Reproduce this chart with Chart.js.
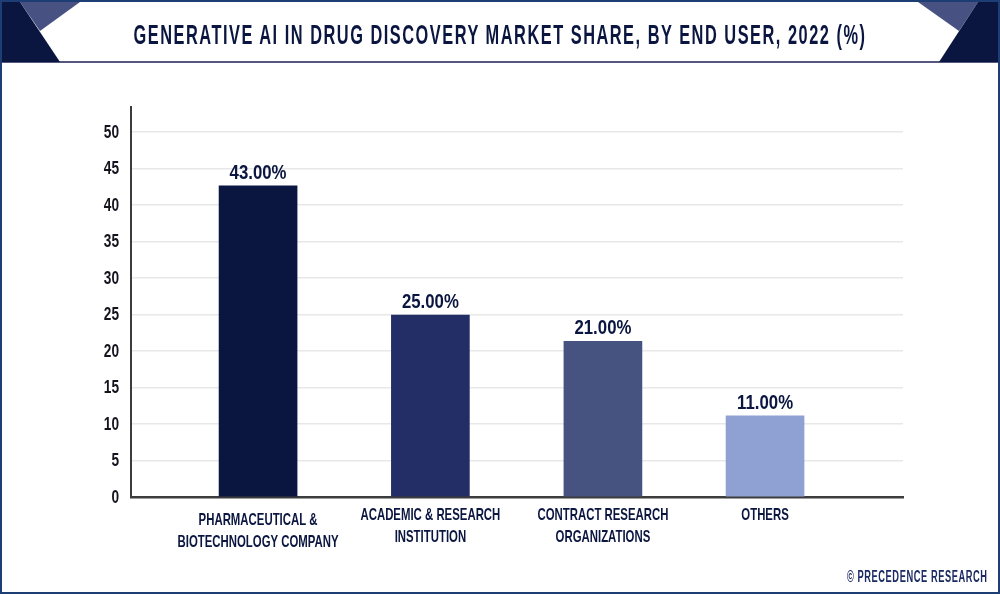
<!DOCTYPE html>
<html>
<head>
<meta charset="utf-8">
<script src="https://cdn.jsdelivr.net/npm/chart.js@4"></script>
<style>
  html, body { margin: 0; padding: 0; background: #fff; }
  #page { position: relative; width: 1000px; height: 594px; overflow: hidden; background: #fff; }
  #chart { position: absolute; left: 0; top: 0; }
  #corners { position: absolute; left: 0; top: 0; }
  #frame { position: absolute; left: 0; top: 0; width: 996px; height: 590px; border: 2px solid #1d3d75; }
  #title {
    position: absolute; left: -500px; top: 19px; width: 2000px; text-align: center; white-space: nowrap;
    font: bold 28px "Liberation Sans", sans-serif; letter-spacing: 2.6px; color: #0b1640;
    transform: scaleX(0.584);
  }
  #credit {
    position: absolute; right: 12px; top: 568px; white-space: nowrap;
    font: bold 16px "Liberation Sans", sans-serif; letter-spacing: 1px; color: #1b2a63;
    transform: scaleX(0.58); transform-origin: right center;
  }
</style>
</head>
<body>
<div id="page">
  <canvas id="chart" width="1000" height="594"></canvas>
  <svg id="corners" width="1000" height="64">
    <line x1="0" y1="62" x2="1000" y2="62" stroke="#1c1f55" stroke-width="1.5"/>
    <polygon points="20,2 80,2 40,31" fill="#475283"/>
    <polygon points="2,2 20,2 60,62 2,62" fill="#0b1640"/>
    <polygon points="918,2 978,2 959,31" fill="#475283"/>
    <polygon points="978,2 998,2 998,62 939,62" fill="#0b1640"/>
  </svg>
  <div id="frame"></div>
  <div id="title">GENERATIVE AI IN DRUG DISCOVERY MARKET SHARE, BY END USER, 2022 (%)</div>
  <div id="credit">© PRECEDENCE RESEARCH</div>
</div>
<script>
// Data
const categories = [
    ['PHARMACEUTICAL &', 'BIOTECHNOLOGY COMPANY'],
    ['ACADEMIC & RESEARCH', 'INSTITUTION'],
    ['CONTRACT RESEARCH', 'ORGANIZATIONS'],
    'OTHERS'
];
const shareValues = [42.6, 24.9, 21.3, 11.1];
const shareLabels = ['43.00%', '25.00%', '21.00%', '11.00%'];
const barColors = ['#0b1640', '#232e66', '#46527f', '#8fa1d3'];

const inkColor = '#0b1640';
const chartFont = '"Liberation Sans", sans-serif';

// No condensed font here, so canvas text is squeezed by font size
const squeezeBySize = { 17: 0.67, 18: 0.76, 20: 0.84 };

// The bars are not evenly spread in the original, so the category axis gets its own slots
const axisSlots = [0.1646, 0.3878, 0.6113, 0.8213];

class SlottedScale extends Chart.CategoryScale {
    static id = 'slotted';
    static defaults = {};

    getPixelForValue(value) {
        const index = typeof value === 'number' ? value : this.parse(value);
        return this.left + axisSlots[index] * this.width;
    }

    // first label sits a bit lower than the others
    _computeLabelItems(chartArea) {
        const items = super._computeLabelItems(chartArea);
        if (items.length) items[0].options.translation[1] += 5;
        return items;
    }
}
Chart.register(SlottedScale);

const canvas = document.getElementById('chart');
const context = canvas.getContext('2d');
const plainFillText = context.fillText.bind(context);
context.fillText = function (text, x, y) {
    const size = parseInt(context.font.match(/(\d+)px/)[1], 10);
    const squeeze = squeezeBySize[size] || 1;
    context.save();
    context.translate(x, y);
    context.scale(squeeze, 1);
    plainFillText(text, 0, 0);
    context.restore();
};

// Value labels above the bars
const barLabels = {
    id: 'barLabels',
    afterDatasetsDraw(chart) {
        const ctx = chart.ctx;
        const bars = chart.getDatasetMeta(0).data;
        ctx.save();
        ctx.font = 'bold 20px ' + chartFont;
        ctx.fillStyle = inkColor;
        ctx.textAlign = 'center';
        ctx.textBaseline = 'alphabetic';
        bars.forEach((bar, i) => {
            ctx.fillText(shareLabels[i], bar.x, bar.y - 7);
        });
        ctx.restore();
    }
};

new Chart(context, {
    type: 'bar',
    data: {
        labels: categories,
        datasets: [{
            data: shareValues,
            backgroundColor: barColors,
            barThickness: 78
        }]
    },
    plugins: [barLabels],
    options: {
        responsive: false,
        animation: false,
        layout: { padding: { top: 107, left: 90, right: 97, bottom: 0 } },
        plugins: {
            legend: { display: false },
            tooltip: { enabled: false }
        },
        scales: {
            x: {
                type: 'slotted',
                afterFit: scale => { scale.height = 97; },
                grid: { display: false },
                border: { color: '#3c3c3c', width: 2.5 },
                ticks: {
                    color: inkColor,
                    font: { family: chartFont, size: 17, weight: 'bold', lineHeight: 1.3 },
                    padding: -1,
                    autoSkip: false,
                    maxRotation: 0
                }
            },
            y: {
                min: 0,
                max: 53.4,
                afterFit: scale => { scale.width = 41; },
                grid: { color: '#e8e8e8', lineWidth: 1.5, drawTicks: false },
                border: { color: '#3c3c3c', width: 2 },
                ticks: {
                    stepSize: 5,
                    includeBounds: false,
                    labelOffset: 1,
                    color: '#14141f',
                    font: { family: chartFont, size: 18, weight: 'bold' },
                    padding: 12
                }
            }
        }
    }
});
</script>
</body>
</html>
